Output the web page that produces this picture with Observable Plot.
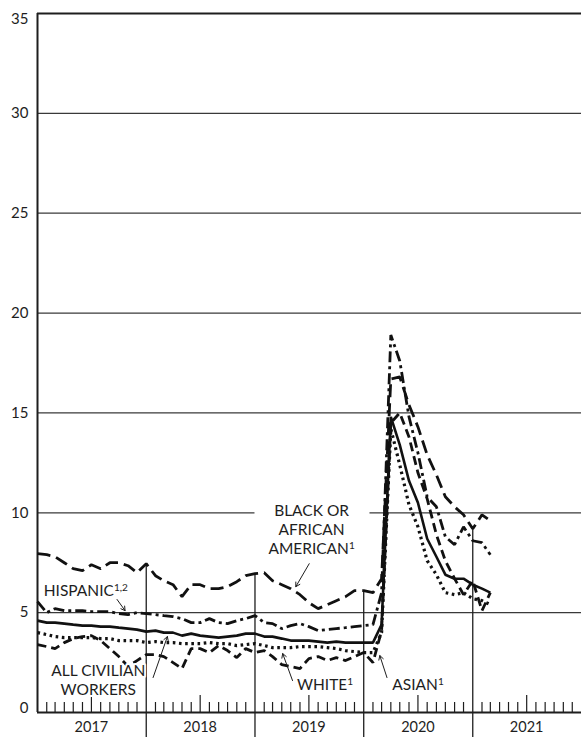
<!DOCTYPE html>
<html>
<head>
<meta charset="utf-8">
<script src="https://cdn.jsdelivr.net/npm/d3@7"></script>
<script src="https://cdn.jsdelivr.net/npm/@observablehq/plot@0.6"></script>
<style>
  html, body { margin: 0; padding: 0; background: #fff; }
  #chart svg { display: block; }
</style>
</head>
<body>
<div id="chart"></div>
<script>
// ---- Data (monthly unemployment rates, Jan 2017 – Mar 2021) ----
const startMonth = "2017-01-01";
const endMonth = "2021-03-01";

const allCivilian = [
  4.6, 4.5, 4.5, 4.45, 4.4, 4.35, 4.35, 4.3, 4.3, 4.25, 4.2, 4.15,
  4.05, 4.1, 4.0, 4.0, 3.85, 3.95, 3.85, 3.8, 3.75, 3.8, 3.85, 3.95,
  3.95, 3.8, 3.8, 3.7, 3.6, 3.6, 3.6, 3.55, 3.5, 3.55, 3.5, 3.5,
  3.5, 3.5, 4.4, 14.8, 13.4, 11.6, 10.5, 8.7, 7.8, 6.9, 6.7, 6.7,
  6.4, 6.2, 6.0
];
const white = [
  4.0, 3.9, 3.8, 3.75, 3.75, 3.75, 3.75, 3.7, 3.7, 3.6, 3.6, 3.6,
  3.5, 3.55, 3.5, 3.5, 3.45, 3.45, 3.45, 3.5, 3.45, 3.45, 3.35, 3.4,
  3.45, 3.35, 3.25, 3.25, 3.25, 3.3, 3.3, 3.3, 3.25, 3.2, 3.1, 3.05,
  3.0, 3.0, 4.0, 14.2, 12.4, 10.4, 9.3, 7.6, 6.9, 6.0, 5.9, 6.0,
  5.7, 5.6, 5.4
];
const black = [
  7.95, 7.9, 7.8, 7.5, 7.2, 7.1, 7.4, 7.2, 7.5, 7.5, 7.35, 7.0,
  7.45, 6.85, 6.6, 6.4, 5.8, 6.4, 6.4, 6.2, 6.2, 6.3, 6.55, 6.85,
  6.95, 7.0, 6.6, 6.4, 6.2, 5.9, 5.5, 5.2, 5.4, 5.6, 5.8, 6.1,
  6.1, 6.0, 6.7, 16.7, 16.8, 15.4, 14.3, 12.9, 11.9, 10.8, 10.3, 9.9,
  9.2, 9.9, 9.6
];
const hispanic = [
  5.55, 5.0, 5.2, 5.1, 5.1, 5.1, 5.05, 5.05, 5.05, 4.95, 4.9, 5.0,
  4.95, 4.9, 4.85, 4.8, 4.7, 4.5, 4.5, 4.7, 4.5, 4.45, 4.6, 4.7,
  4.85, 4.5, 4.45, 4.2, 4.35, 4.45, 4.3, 4.1, 4.15, 4.2, 4.25, 4.3,
  4.35, 4.4, 6.0, 18.9, 17.6, 14.8, 13.0, 10.8, 10.3, 8.8, 8.4, 9.3,
  8.6, 8.5, 7.9
];
const asian = [
  3.4, 3.3, 3.2, 3.5, 3.7, 3.8, 3.85, 3.6, 3.2, 2.8, 2.3, 2.6,
  2.9, 2.9, 2.8, 2.5, 2.2, 3.2, 3.2, 3.0, 3.35, 3.1, 2.75, 3.2,
  3.0, 3.1, 2.8, 2.4, 2.3, 2.2, 2.7, 2.8, 2.6, 2.75, 2.6, 2.8,
  3.0, 2.5, 4.1, 14.5, 15.0, 13.8, 12.0, 10.7, 8.9, 7.6, 6.7, 5.9,
  6.6, 5.1, 6.0
];

const yearLabels = ["2017", "2018", "2019", "2020", "2021"];
const yTickValues = [5, 10, 15, 20, 25, 30];
const yEndLabels = [0, 35];

// annotation labels (x as date, y as rate)
const labels = [
  {text: "HISPANIC^1,2", x: "2017-01-22", y: 6.15, anchor: "start"},
  {text: "ALL CIVILIAN\nWORKERS", x: "2017-07-24", y: 1.65, anchor: "middle"},
  {text: "BLACK OR\nAFRICAN\nAMERICAN^1", x: "2019-07-10", y: 9.2, anchor: "middle"},
  {text: "WHITE^1", x: "2019-05-22", y: 1.45, anchor: "start"},
  {text: "ASIAN^1", x: "2020-04-06", y: 1.45, anchor: "start"}
];
const arrows = [
  {x1: "2017-09-25", y1: 5.66, x2: "2017-10-22", y2: 5.1},
  {x1: "2018-01-24", y1: 1.75, x2: "2018-03-13", y2: 3.8},
  {x1: "2019-07-02", y1: 7.45, x2: "2019-05-18", y2: 6.3},
  {x1: "2019-05-07", y1: 1.6, x2: "2019-04-04", y2: 2.95},
  {x1: "2020-03-19", y1: 1.75, x2: "2020-02-24", y2: 2.85}
];

// ---- Build ----
const parse = d3.utcParse("%Y-%m-%d");
const months = d3.utcMonth.range(parse(startMonth), d3.utcMonth.offset(parse(endMonth), 1));
const seriesDefs = [
  {name: "Black", values: black, dash: "13 6", width: 2.8},
  {name: "Hispanic", values: hispanic, dash: "11 4 3 4", width: 2.8},
  {name: "Asian", values: asian, dash: "9 5", width: 2.8},
  {name: "White", values: white, dash: "2.6 3.6", width: 3.2},
  {name: "All civilian workers", values: allCivilian, dash: null, width: 2.6}
];
const rows = seriesDefs.map(s => months.map((m, i) => ({date: m, value: s.values[i], series: s.name})));

const W = 581, H = 737, mT = 13, mB = 25, mL = 37, mR = 0;
const pxPerUnit = (H - mT - mB) / 35;
const x0 = parse("2017-01-01"), x1 = parse("2022-01-01");

const yearStarts = d3.utcYear.range(parse("2018-01-01"), parse("2021-02-01"));
const boundaryRules = yearStarts.map(d => {
  const i = months.findIndex(m => +m === +d);
  return {date: d, top: d3.max(seriesDefs, s => s.values[i])};
});
const yearMids = yearLabels.map(y => parse(y + "-07-01"));
const allMonthStarts = d3.utcMonth.range(parse("2017-02-01"), x1);
const shortTicks = allMonthStarts.filter(d => d.getUTCMonth() !== 0 && d.getUTCMonth() !== 6);
const tallTicks = allMonthStarts.filter(d => d.getUTCMonth() === 6);

const gap10 = [parse("2019-01-01"), parse("2020-01-22")];
const gridSegs = yTickValues.flatMap(v => v === 10
  ? [{y: v, a: x0, b: gap10[0]}, {y: v, a: gap10[1], b: x1}]
  : [{y: v, a: x0, b: x1}]);

const ink = "#1e1e1e";
const labelOpts = {x: d => parse(d.x), y: "y", text: "text",
  fontSize: 15.5, fill: ink, stroke: "white", strokeWidth: 4, lineHeight: 1.22};

const plot = Plot.plot({
  width: W, height: H,
  marginTop: mT, marginBottom: mB, marginLeft: mL, marginRight: mR,
  style: {fontFamily: "Lato, 'DejaVu Sans', sans-serif", fontSize: "15px", color: ink, background: "#fff"},
  x: {type: "utc", domain: [x0, x1], axis: null},
  y: {domain: [0, 35], ticks: yTickValues, tickSize: 0, tickPadding: 9, label: null, tickFormat: d => String(d)},
  marks: [
    Plot.ruleY(gridSegs, {y: "y", x1: "a", x2: "b", stroke: "#3a3a3a", strokeWidth: 1.3}),
    Plot.ruleY([35], {stroke: ink, strokeWidth: 2.2}),
    Plot.ruleY([0], {stroke: ink, strokeWidth: 1.8}),
    Plot.ruleX([x0], {y1: 0, y2: 35, stroke: ink, strokeWidth: 2}),
    Plot.ruleX(boundaryRules, {x: "date", y1: "top", y2: -(mB) / pxPerUnit, stroke: ink, strokeWidth: 1.3}),
    Plot.ruleX(shortTicks, {x: d => d, y1: 0, y2: 10 / pxPerUnit, stroke: ink, strokeWidth: 1.2}),
    Plot.ruleX(tallTicks, {x: d => d, y1: 0, y2: 17 / pxPerUnit, stroke: ink, strokeWidth: 1.2}),
    ...seriesDefs.map((s, k) => Plot.line(rows[k], {
      x: "date", y: "value", stroke: "#111", strokeWidth: s.width,
      strokeDasharray: s.dash, strokeLinejoin: "miter", strokeLinecap: "butt"
    })),
    Plot.text(yEndLabels, {x: x0, y: d => d, text: d => String(d), dx: -9, textAnchor: "end",
      lineAnchor: "bottom", filter: d => d === 0, fontSize: 15, fill: ink}),
    Plot.text(yEndLabels, {x: x0, y: d => d, text: d => String(d), dx: -9, textAnchor: "end",
      lineAnchor: "top", filter: d => d === 35, fontSize: 15, fill: ink}),
    Plot.text(yearMids, {x: d => d, y: 0, text: (d, i) => yearLabels[i], lineAnchor: "top", dy: 9, fontSize: 14.5, fill: ink}),
    Plot.arrow(arrows, {x1: d => parse(d.x1), y1: "y1", x2: d => parse(d.x2), y2: "y2",
      stroke: ink, strokeWidth: 1, headLength: 7, bend: false}),
    Plot.text(labels, {...labelOpts, filter: d => d.anchor === "start", textAnchor: "start"}),
    Plot.text(labels, {...labelOpts, filter: d => d.anchor === "middle", textAnchor: "middle"})
  ]
});

// superscripts
plot.querySelectorAll("text, tspan").forEach(el => {
  Array.from(el.childNodes).forEach(n => {
    if (n.nodeType === 3 && n.nodeValue.includes("^")) {
      const [main, sup] = n.nodeValue.split("^");
      n.nodeValue = main;
      const t = document.createElementNS("http://www.w3.org/2000/svg", "tspan");
      t.setAttribute("dy", "-0.5em");
      t.setAttribute("font-size", "0.65em");
      t.textContent = sup;
      el.insertBefore(t, n.nextSibling);
    }
  });
});
document.getElementById("chart").appendChild(plot);
</script>
</body>
</html>
